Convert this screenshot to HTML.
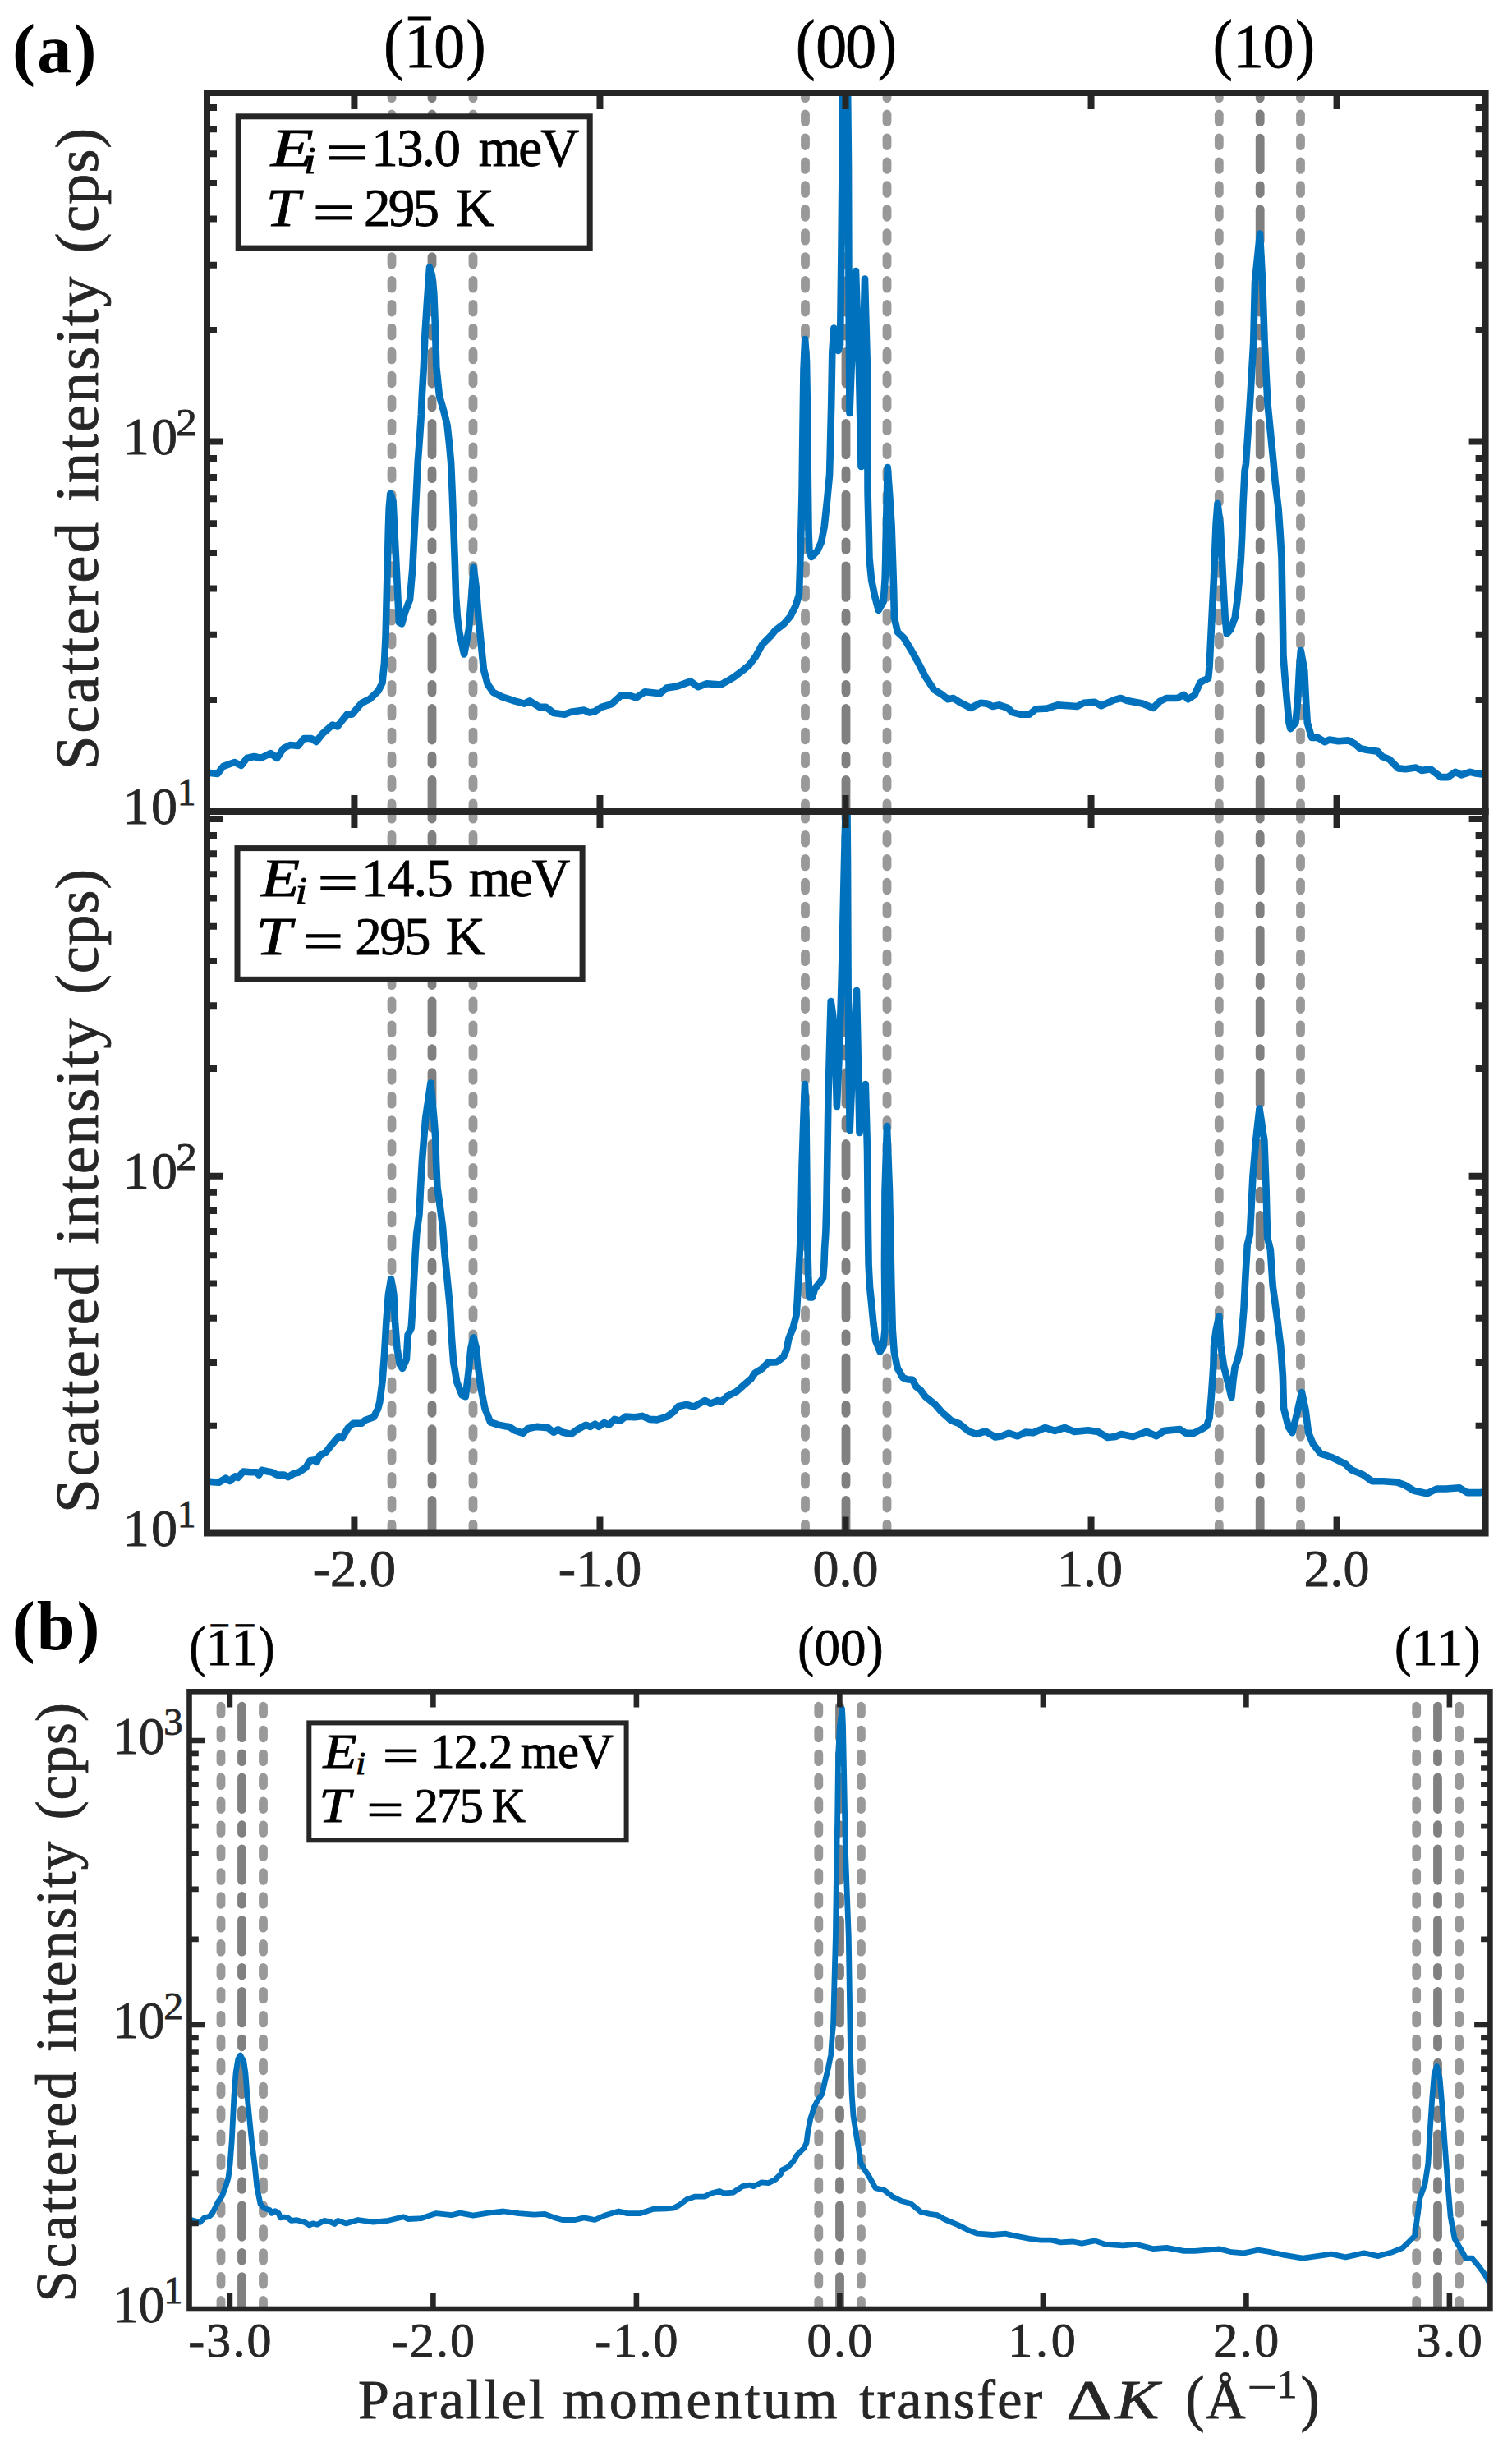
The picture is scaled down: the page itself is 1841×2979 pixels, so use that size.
<!DOCTYPE html>
<html><head><meta charset="utf-8"><title>Figure</title>
<style>html,body{margin:0;padding:0;background:#fff;}body{width:1841px;height:2979px;overflow:hidden;}svg{display:block;}</style>
</head><body>
<svg width="1841" height="2979" viewBox="0 0 1841 2979" font-family="'Liberation Serif', 'DejaVu Serif', serif">
<rect width="1841" height="2979" fill="#fff"/>
<defs>
<clipPath id="ca1"><rect x="252" y="113" width="1556.6" height="875"/></clipPath>
<clipPath id="ca2"><rect x="252" y="988" width="1556.6" height="878.5"/></clipPath>
<clipPath id="cb"><rect x="230.5" y="2059.3" width="1583.9" height="751.7"/></clipPath>
</defs>
<g clip-path="url(#ca1)">
<line x1="477" y1="113" x2="477" y2="1008" stroke="#999999" stroke-width="10.8" stroke-linecap="round" stroke-dasharray="9.6 19.33" stroke-dashoffset="2.96"/>
<line x1="576" y1="113" x2="576" y2="1008" stroke="#999999" stroke-width="10.8" stroke-linecap="round" stroke-dasharray="9.6 19.33" stroke-dashoffset="2.96"/>
<line x1="980.5" y1="113" x2="980.5" y2="1008" stroke="#999999" stroke-width="10.8" stroke-linecap="round" stroke-dasharray="9.6 19.33" stroke-dashoffset="2.96"/>
<line x1="1080" y1="113" x2="1080" y2="1008" stroke="#999999" stroke-width="10.8" stroke-linecap="round" stroke-dasharray="9.6 19.33" stroke-dashoffset="2.96"/>
<line x1="1484.3" y1="113" x2="1484.3" y2="1008" stroke="#999999" stroke-width="10.8" stroke-linecap="round" stroke-dasharray="9.6 19.33" stroke-dashoffset="2.96"/>
<line x1="1583.5" y1="113" x2="1583.5" y2="1008" stroke="#999999" stroke-width="10.8" stroke-linecap="round" stroke-dasharray="9.6 19.33" stroke-dashoffset="2.96"/>
<line x1="526" y1="113" x2="526" y2="1008" stroke="#808080" stroke-width="10.8" stroke-linecap="round" stroke-dasharray="38.5 19.2 9.7 19.4" stroke-dashoffset="31.7"/>
<line x1="1030" y1="113" x2="1030" y2="1008" stroke="#808080" stroke-width="10.8" stroke-linecap="round" stroke-dasharray="38.5 19.2 9.7 19.4" stroke-dashoffset="31.7"/>
<line x1="1534.2" y1="113" x2="1534.2" y2="1008" stroke="#808080" stroke-width="10.8" stroke-linecap="round" stroke-dasharray="38.5 19.2 9.7 19.4" stroke-dashoffset="31.7"/>
<polyline points="252,941 256,941 264.9,942 271.8,933 279.8,930 285.7,928 293.7,932 300.6,923 309.5,921 317.5,923 329.4,917 337.3,923 345.2,911 353.2,907 363.1,908 370,899 379,899 384.9,903 392.9,893 404.8,882.5 410.7,884.5 422.6,869.6 428.6,869.6 440.5,855.8 450.4,850.8 460.6,841.1 465.5,831.3 468,806.8 469.6,774.1 470.4,741.4 471.2,708.8 472.1,676.1 472.9,643.4 473.7,618.9 475.3,601 478.6,610.7 480.2,643.4 481.9,676.1 484.3,725.1 485.9,757.8 489.2,759.4 493.3,744.7 499,730 502.3,692.4 503.9,659.7 505.6,627.1 507.2,594.4 508.8,561.7 511.3,529 512.9,504.5 513.6,485.2 515.9,445.5 517.5,405.8 520.1,366 523,325.5 526,335 528.3,357 530,400 531.3,446.7 535,482 540.2,500 544.6,518 547,540 549.1,563 550.7,600 552.1,637 553.7,680 555.1,726 557,752 559.5,771 565.2,796.5 570.9,766 574.2,725.1 576.6,690.8 579.9,716.9 582.4,749.6 585.6,782.3 588.9,815 593.8,833 600.3,842.7 610.6,848.1 626.5,853.4 638.4,856.6 645,853.4 656.9,860.8 664.8,860.8 674.1,868 687.3,869.8 695.2,866.7 711.1,864.6 717.7,867.5 724.3,866.1 732.3,860.8 744.2,857.4 756.1,846.8 766.7,846.8 774.6,849.5 785.2,842.3 803.7,844.2 811.6,837.6 824.9,835.4 840.7,829.6 850,836.2 860.6,832.3 877.8,833.6 885.7,829.1 893.7,824.3 904.2,816.4 912.2,809.8 920.1,799.2 928,784.7 938.6,774.1 943.9,767.5 954.5,759.5 962.4,750.3 969,737 973,723.8 975.1,659.5 976.5,600 977.5,520 978.5,450 980.2,413 982,440 983,500 984,600 984.6,650 985.5,672 988,678 991,675 995,671 1000,660 1003.7,641 1007,610 1010.1,577.5 1012.2,492.5 1013.3,428.7 1015.4,399.5 1018,404 1020.5,427 1023,420 1024.5,300 1025.5,200 1026.5,100 1029,40 1032,100 1033,200 1033.5,350 1034.5,503 1038.5,400 1042,330 1046,450 1048.5,568 1050.5,450 1053,339.5 1056,450 1056.6,600.6 1057.8,649.6 1058.5,679.4 1061.1,705.8 1065.1,725.7 1069.7,742.9 1075.7,732.3 1077.6,705.8 1078.3,679.4 1079,639.7 1080,600 1080.7,569 1083,600 1085.6,639.7 1086.9,679.4 1088.2,719 1088.9,752.1 1092.9,769.3 1100.4,776.5 1109.5,791.5 1118.5,807.6 1126.5,823.5 1137,839.4 1147.6,846 1154.2,851.3 1160.8,850 1168.8,855.2 1182,861.9 1193.9,855.8 1201.9,856.6 1208.5,860 1216.4,858.4 1227,861.9 1232.3,867.1 1242.9,869.8 1253.4,869.8 1261.4,863.2 1274.6,862.6 1287.8,858.4 1301.1,859.2 1311.6,860 1319.6,855.8 1332.8,854.7 1340.7,859.2 1356.6,852.1 1364.6,850 1372.5,853.1 1391,856.6 1404.2,861.9 1412.2,853.9 1420.1,850 1433.3,850 1441.3,846 1446.6,851.3 1454.5,846 1461.1,831.4 1465.3,828.5 1471.2,825.9 1472.6,811.3 1473.9,784.9 1475.2,758.4 1476.5,732 1477.9,705.5 1479.2,672.4 1480.5,639.4 1482.5,613 1485.8,639.4 1487.8,679 1489.8,718.7 1491.7,751.8 1493.7,771.6 1498.4,766.3 1503.7,751.8 1506.3,732 1508.9,705.5 1510.9,679 1512.2,652.6 1513.6,612.9 1515.6,573.2 1517,564.3 1521.9,490.7 1526.2,417.1 1528,343.6 1534,284.5 1537.2,343.6 1539.7,417.1 1543.4,490.7 1550.7,564.3 1552.6,586.5 1556.6,619.5 1558.5,646 1560.5,679 1561.2,718.7 1561.9,758.4 1562.5,798.1 1564.5,824.6 1566.8,851.4 1569.5,880 1571.3,887.1 1577.5,880 1580.2,851.4 1582,815.7 1583.8,792 1588.2,815.7 1590,851.4 1591.8,880 1597.1,897.9 1604.3,897.9 1613.2,903.2 1618.6,900.5 1629.3,902.3 1641.8,901.4 1648.9,905 1656.1,911.3 1665,913 1677.5,914.8 1682.9,921.1 1691.8,924.6 1702.5,935.4 1711.4,936.3 1723.9,934.5 1731.1,938 1741.8,936.3 1754.3,946.1 1763.2,946.1 1772.1,939.8 1779.3,943.4 1790,939.8 1797.1,941.6 1804.3,942.5 1810,942" fill="none" stroke="#0072BD" stroke-width="8.6" stroke-linejoin="round" stroke-linecap="round"/>
</g>
<g clip-path="url(#ca2)">
<line x1="477" y1="988" x2="477" y2="1886.5" stroke="#999999" stroke-width="10.8" stroke-linecap="round" stroke-dasharray="9.6 19.33" stroke-dashoffset="0.54"/>
<line x1="576" y1="988" x2="576" y2="1886.5" stroke="#999999" stroke-width="10.8" stroke-linecap="round" stroke-dasharray="9.6 19.33" stroke-dashoffset="0.54"/>
<line x1="980.5" y1="988" x2="980.5" y2="1886.5" stroke="#999999" stroke-width="10.8" stroke-linecap="round" stroke-dasharray="9.6 19.33" stroke-dashoffset="0.54"/>
<line x1="1080" y1="988" x2="1080" y2="1886.5" stroke="#999999" stroke-width="10.8" stroke-linecap="round" stroke-dasharray="9.6 19.33" stroke-dashoffset="0.54"/>
<line x1="1484.3" y1="988" x2="1484.3" y2="1886.5" stroke="#999999" stroke-width="10.8" stroke-linecap="round" stroke-dasharray="9.6 19.33" stroke-dashoffset="0.54"/>
<line x1="1583.5" y1="988" x2="1583.5" y2="1886.5" stroke="#999999" stroke-width="10.8" stroke-linecap="round" stroke-dasharray="9.6 19.33" stroke-dashoffset="0.54"/>
<line x1="526" y1="988" x2="526" y2="1886.5" stroke="#808080" stroke-width="10.8" stroke-linecap="round" stroke-dasharray="38.5 19.2 9.7 19.4" stroke-dashoffset="29.5"/>
<line x1="1030" y1="988" x2="1030" y2="1886.5" stroke="#808080" stroke-width="10.8" stroke-linecap="round" stroke-dasharray="38.5 19.2 9.7 19.4" stroke-dashoffset="29.5"/>
<line x1="1534.2" y1="988" x2="1534.2" y2="1886.5" stroke="#808080" stroke-width="10.8" stroke-linecap="round" stroke-dasharray="38.5 19.2 9.7 19.4" stroke-dashoffset="29.5"/>
<polyline points="252,1803.9 255.8,1803.9 266.5,1804.7 274.8,1799.7 279.8,1803 286.4,1797.3 289.7,1798.9 296.3,1791.5 304.6,1792.3 312.8,1792.3 315.3,1795.6 318.6,1789.8 326.1,1791.5 331,1792.3 337.6,1795.6 345.9,1795.6 350.9,1798.1 357.5,1794 364.1,1792.3 372.4,1786.5 377.3,1778.3 382.3,1777.4 385.6,1779.9 388.9,1772.5 397.2,1767.5 402.1,1760.9 412,1749.3 417,1750.1 423.6,1738.6 430.2,1732.8 440.1,1732.8 445.1,1728.7 455,1725.3 460,1715.4 462.3,1706.8 465.5,1682.3 468,1649.6 470.4,1608.8 472.9,1576.1 476.1,1557 479.4,1576.1 481,1608.8 483.5,1641.4 486.8,1661 490,1666 494.9,1654.5 496.6,1625.1 500.7,1616.9 502.3,1592.4 503.9,1559.7 505.6,1527.1 507.2,1502.5 510.5,1478 512.1,1445.4 513.9,1414 516.2,1385 518.1,1361.8 524.4,1318.5 528.4,1361.8 530.2,1385 531.1,1415.7 532.5,1445.4 536.6,1474.8 539.1,1494.4 541.5,1527.1 544.8,1559.7 548,1592.4 549.7,1625.1 552.1,1657.8 556.2,1682.3 562.7,1698.6 566.8,1700.3 570.1,1674.1 573.4,1641.4 576.6,1628.4 579.9,1641.4 582.4,1666 585.6,1690.5 590.5,1715 597.1,1731.3 606.9,1734.6 615,1736.2 620,1736.9 626.7,1741.4 636.9,1744.8 642.5,1739.2 653.7,1736.9 667.2,1738.1 674,1743.7 679.6,1740.3 685.2,1743.7 695.3,1745.9 703.2,1740.3 713.3,1734.7 718.9,1736.9 724.6,1733.6 729.1,1736.9 735.8,1732 741.4,1734.7 748.2,1727.9 754.9,1729.7 761.7,1724.6 772.9,1725.2 781.9,1723.9 790.9,1727.9 799.9,1728.4 811.1,1725.2 820.1,1718.9 825.8,1712.2 835.9,1709.9 844.9,1712.6 858.4,1705 865.1,1708.8 874.1,1705 878.6,1706.6 885.3,1699.8 896.6,1694.2 905.6,1686.3 914.6,1678.5 919.1,1671.7 928.1,1666.1 935.3,1658.7 945.9,1658.1 953.8,1652.1 957.8,1642.9 960.4,1629.6 965.7,1616.4 969.7,1600.5 971,1579.4 972.3,1552.9 973.7,1526.5 975,1500 976.5,1420 978.5,1360 980,1320 981.5,1360 982.3,1430 982.9,1500 983.6,1526.5 984.2,1552.9 985.6,1579.4 988.9,1579.4 992.2,1568.8 997.5,1562.2 1002.1,1555.6 1003.4,1539.7 1004.1,1519.8 1005.4,1500 1006.5,1460 1007.2,1420 1008.4,1339.5 1010.5,1260 1011.7,1219 1014,1235 1016.6,1262 1018.9,1347 1022,1280 1024.6,1196 1026.3,1127 1028,1050 1029.5,990 1030.5,960 1031.5,990 1032,1050 1032.3,1127 1032.6,1196 1033.5,1290 1034.7,1376 1038,1300 1043,1206 1045,1300 1046.5,1379 1050,1350 1053.8,1320 1056,1400 1057,1500 1057.6,1539.7 1059,1566.1 1061,1586 1063.6,1612.4 1066.2,1632.3 1071.5,1645.5 1075.5,1638.9 1077.5,1619 1077.5,1592.6 1077,1540 1077.5,1450 1080,1371 1083,1450 1084.1,1500 1085.4,1566.1 1086.8,1619 1088.7,1645.5 1092.7,1665.3 1099.3,1677.2 1104.6,1679.2 1111.2,1679.9 1115.2,1687.8 1121,1692.5 1127.1,1700.7 1139,1710.2 1146.2,1718.6 1158.1,1729.3 1167.6,1732.9 1179.5,1742.4 1189,1746 1199.8,1742.4 1211.7,1749.5 1220,1748.3 1228.3,1744.8 1239,1748.3 1248.6,1743.6 1258.1,1744.3 1272.4,1738.1 1284.3,1741.9 1296.2,1738.1 1308.1,1742.9 1324.8,1741.2 1336.7,1742.9 1348.6,1750 1358.1,1749 1365.2,1746 1379.5,1749 1396.2,1742.9 1408.1,1748.3 1417.6,1741.9 1436.7,1740 1443.8,1744.8 1453.3,1744.8 1462.9,1740 1469.3,1736.1 1472.7,1725.6 1475,1697.9 1477.4,1663.1 1478,1638.8 1480.5,1620 1484.3,1602.5 1486.5,1638.8 1490.1,1663.1 1497,1690.9 1499.4,1701 1501.5,1680 1503.5,1665 1507,1655 1510.7,1638.8 1514.4,1594.7 1516.6,1550.6 1518.8,1515.3 1521.8,1503.5 1523.2,1477.1 1525.4,1432.9 1529.1,1388.8 1533.5,1349.5 1539.4,1388.8 1541.6,1447.6 1543.1,1506.5 1546.8,1521.2 1549.7,1565.3 1555.6,1609.4 1559.3,1638.8 1561.9,1674.7 1563,1714.1 1568.8,1737.2 1573.4,1744.2 1579.2,1721 1585,1695 1589.6,1716.4 1593.1,1744.2 1598.9,1758.1 1608.1,1769.6 1622,1774.3 1631.3,1778.9 1638.2,1782.4 1645.2,1789.3 1659.1,1795.1 1670.6,1803.2 1684.5,1803.2 1700.7,1804.4 1710,1807.8 1721.6,1814.8 1737.8,1818.2 1749.4,1812.5 1760.9,1812.5 1777.1,1811.3 1786.4,1817.1 1802.6,1817.1 1810,1816" fill="none" stroke="#0072BD" stroke-width="8.6" stroke-linejoin="round" stroke-linecap="round"/>
</g>
<g clip-path="url(#cb)">
<line x1="269" y1="2059.3" x2="269" y2="2831" stroke="#999999" stroke-width="10.8" stroke-linecap="round" stroke-dasharray="9.6 19.33" stroke-dashoffset="11.03"/>
<line x1="320.5" y1="2059.3" x2="320.5" y2="2831" stroke="#999999" stroke-width="10.8" stroke-linecap="round" stroke-dasharray="9.6 19.33" stroke-dashoffset="11.03"/>
<line x1="996.8" y1="2059.3" x2="996.8" y2="2831" stroke="#999999" stroke-width="10.8" stroke-linecap="round" stroke-dasharray="9.6 19.33" stroke-dashoffset="11.03"/>
<line x1="1048.4" y1="2059.3" x2="1048.4" y2="2831" stroke="#999999" stroke-width="10.8" stroke-linecap="round" stroke-dasharray="9.6 19.33" stroke-dashoffset="11.03"/>
<line x1="1724.7" y1="2059.3" x2="1724.7" y2="2831" stroke="#999999" stroke-width="10.8" stroke-linecap="round" stroke-dasharray="9.6 19.33" stroke-dashoffset="11.03"/>
<line x1="1776.6" y1="2059.3" x2="1776.6" y2="2831" stroke="#999999" stroke-width="10.8" stroke-linecap="round" stroke-dasharray="9.6 19.33" stroke-dashoffset="11.03"/>
<line x1="294.5" y1="2059.3" x2="294.5" y2="2831" stroke="#808080" stroke-width="10.8" stroke-linecap="round" stroke-dasharray="38.5 19.2 9.7 19.4" stroke-dashoffset="68.9"/>
<line x1="1022.5" y1="2059.3" x2="1022.5" y2="2831" stroke="#808080" stroke-width="10.8" stroke-linecap="round" stroke-dasharray="38.5 19.2 9.7 19.4" stroke-dashoffset="68.9"/>
<line x1="1750.5" y1="2059.3" x2="1750.5" y2="2831" stroke="#808080" stroke-width="10.8" stroke-linecap="round" stroke-dasharray="38.5 19.2 9.7 19.4" stroke-dashoffset="68.9"/>
<polyline points="230,2702.7 233.6,2702.7 243.3,2705.5 248.8,2699.9 254.4,2698.5 257.9,2695.7 261.4,2688.8 265.5,2680.4 270.4,2673.5 274.6,2662.4 278,2651.3 280.1,2634.6 282.2,2606.8 283.6,2579 285,2551.2 287.1,2523.4 289.8,2506.7 292.6,2502 296.8,2509.5 298.9,2523.4 301,2551.2 303.7,2579 306.5,2606.8 310,2634.6 312.8,2662.4 317,2683.2 322.5,2688.8 328.1,2690.2 330.8,2694.3 335,2691.6 339.2,2694.3 341.3,2699.9 346.1,2699.2 350.3,2699.9 354.5,2703.4 361.4,2702.7 371.2,2705.5 376.7,2708.9 380.9,2706.9 386.4,2708.2 394.8,2703.4 401.7,2704.8 407.3,2707.5 411.5,2703.4 421.2,2706.9 435.9,2702.5 454.4,2705.2 472.9,2703.3 491.4,2698.8 496.7,2701.5 512.6,2700.7 531.1,2694.6 549.6,2696.7 560.2,2694.1 576.1,2697.2 594.6,2694.1 613.1,2692 631.6,2694.6 650.2,2696.2 663.4,2695.4 674,2699.4 684.6,2702.5 700.4,2702.5 711,2699.9 724.2,2702.5 737.5,2696.7 753.3,2692 763.9,2694.6 779.8,2694.6 795.7,2689.3 811.5,2688.8 819.9,2688.2 826.5,2684.9 836.5,2677.4 846.4,2674.1 858,2674.1 866.2,2670 876.1,2667.5 881.1,2670 892.7,2669.2 904.2,2661.7 912.5,2660.1 917.5,2661.7 927.4,2656.8 935.7,2657.6 943.9,2653.5 950.5,2646.8 952.2,2641.9 958.8,2638.6 965.4,2632 970.4,2623.7 978.7,2615.4 982,2608.8 983.6,2595.6 986.9,2579 991.1,2565.8 995.2,2557.6 1001,2549.3 1004.3,2534.4 1008.4,2517.9 1011.7,2501.3 1013.4,2476.5 1014.6,2465 1017.4,2357.8 1018.9,2250 1019.6,2218.5 1020.6,2136.7 1022.5,2100 1025.5,2080 1026.5,2100 1027.2,2136.7 1028.8,2218.5 1029.3,2250 1033.3,2357.8 1034.9,2460 1035.7,2509.6 1037.3,2550.9 1039,2575.7 1041.5,2592.3 1044.8,2612.1 1048.1,2633.6 1053.1,2641.9 1057.9,2649.1 1065.9,2663.7 1076.5,2666.3 1087,2674.2 1097.6,2679.5 1108.2,2682.2 1121.4,2692.8 1132,2695.4 1141.3,2696.7 1150.5,2702 1166.4,2708.6 1179.6,2715.2 1190.2,2719.2 1208.7,2720.5 1224.6,2719.2 1235.2,2721.9 1253.7,2725.3 1266.9,2727.1 1280.2,2727.1 1290.7,2729.8 1306.6,2729 1317.2,2731.1 1333.1,2727.9 1346.3,2732.4 1367.5,2733.8 1383.3,2732.4 1404.5,2737.7 1420.4,2736.4 1441.5,2740.4 1454.9,2740.4 1469.8,2739.2 1484.6,2737.9 1499.5,2741.7 1514.4,2742.9 1531.8,2739.2 1546.6,2741.7 1564,2745.4 1586.3,2749.1 1603.7,2746.6 1621,2744.1 1638.4,2747.9 1660.7,2742.9 1678.1,2746.6 1695.5,2741.7 1707.8,2736.7 1715.3,2729.3 1722.7,2721.8 1725.2,2703.2 1728.9,2675.9 1735.1,2658.6 1738.9,2633.8 1741.3,2591.6 1743.8,2554.4 1746.3,2524.6 1749.5,2515.5 1753,2529.6 1756.2,2566.8 1758.7,2604 1762.4,2653.6 1766.1,2698.3 1771.1,2725.5 1778.5,2737.9 1784.7,2749.1 1792.2,2749.1 1799.6,2757.8 1807.1,2767.7 1812,2776.4 1816,2783" fill="none" stroke="#0072BD" stroke-width="6.8" stroke-linejoin="round" stroke-linecap="round"/>
</g>
<rect x="290.2" y="141.8" width="428" height="160.3" fill="#fff" stroke="#262626" stroke-width="7"/>
<rect x="289" y="1032.6" width="420.1" height="159.7" fill="#fff" stroke="#262626" stroke-width="7"/>
<rect x="376.3" y="2097.4" width="386.3" height="142.9" fill="#fff" stroke="#262626" stroke-width="6"/>
<path d="M431.42 113L431.42 133 M431.42 988L431.42 968 M730.46 113L730.46 133 M730.46 988L730.46 968 M1029.5 113L1029.5 133 M1029.5 988L1029.5 968 M1328.54 113L1328.54 133 M1328.54 988L1328.54 968 M1627.58 113L1627.58 133 M1627.58 988L1627.58 968 M252 852.04L264 852.04 M1808.6 852.04L1796.6 852.04 M252 772.8L264 772.8 M1808.6 772.8L1796.6 772.8 M252 716.57L264 716.57 M1808.6 716.57L1796.6 716.57 M252 672.96L264 672.96 M1808.6 672.96L1796.6 672.96 M252 637.33L264 637.33 M1808.6 637.33L1796.6 637.33 M252 607.21L264 607.21 M1808.6 607.21L1796.6 607.21 M252 581.11L264 581.11 M1808.6 581.11L1796.6 581.11 M252 558.09L264 558.09 M1808.6 558.09L1796.6 558.09 M252 537.5L272 537.5 M1808.6 537.5L1788.6 537.5 M252 402.04L264 402.04 M1808.6 402.04L1796.6 402.04 M252 322.8L264 322.8 M1808.6 322.8L1796.6 322.8 M252 266.57L264 266.57 M1808.6 266.57L1796.6 266.57 M252 222.96L264 222.96 M1808.6 222.96L1796.6 222.96 M252 187.33L264 187.33 M1808.6 187.33L1796.6 187.33 M252 157.21L264 157.21 M1808.6 157.21L1796.6 157.21 M252 131.11L264 131.11 M1808.6 131.11L1796.6 131.11" stroke="#262626" stroke-width="8" fill="none"/>
<rect x="252" y="113" width="1556.6" height="875" fill="none" stroke="#262626" stroke-width="8"/>
<path d="M431.42 988L431.42 1008 M431.42 1866.5L431.42 1846.5 M730.46 988L730.46 1008 M730.46 1866.5L730.46 1846.5 M1029.5 988L1029.5 1008 M1029.5 1866.5L1029.5 1846.5 M1328.54 988L1328.54 1008 M1328.54 1866.5L1328.54 1846.5 M1627.58 988L1627.58 1008 M1627.58 1866.5L1627.58 1846.5 M252 1735.63L264 1735.63 M1808.6 1735.63L1796.6 1735.63 M252 1659.07L264 1659.07 M1808.6 1659.07L1796.6 1659.07 M252 1604.75L264 1604.75 M1808.6 1604.75L1796.6 1604.75 M252 1562.62L264 1562.62 M1808.6 1562.62L1796.6 1562.62 M252 1528.2L264 1528.2 M1808.6 1528.2L1796.6 1528.2 M252 1499.09L264 1499.09 M1808.6 1499.09L1796.6 1499.09 M252 1473.88L264 1473.88 M1808.6 1473.88L1796.6 1473.88 M252 1451.64L264 1451.64 M1808.6 1451.64L1796.6 1451.64 M252 1431.75L272 1431.75 M1808.6 1431.75L1788.6 1431.75 M252 1300.88L264 1300.88 M1808.6 1300.88L1796.6 1300.88 M252 1224.32L264 1224.32 M1808.6 1224.32L1796.6 1224.32 M252 1170L264 1170 M1808.6 1170L1796.6 1170 M252 1127.87L264 1127.87 M1808.6 1127.87L1796.6 1127.87 M252 1093.45L264 1093.45 M1808.6 1093.45L1796.6 1093.45 M252 1064.34L264 1064.34 M1808.6 1064.34L1796.6 1064.34 M252 1039.13L264 1039.13 M1808.6 1039.13L1796.6 1039.13 M252 1016.89L264 1016.89 M1808.6 1016.89L1796.6 1016.89 M252 997L272 997 M1808.6 997L1788.6 997" stroke="#262626" stroke-width="8" fill="none"/>
<rect x="252" y="988" width="1556.6" height="878.5" fill="none" stroke="#262626" stroke-width="8"/>
<path d="M279.9 2059.3L279.9 2078.6 M279.9 2811L279.9 2791.7 M527.4 2059.3L527.4 2078.6 M527.4 2811L527.4 2791.7 M774.9 2059.3L774.9 2078.6 M774.9 2811L774.9 2791.7 M1022.4 2059.3L1022.4 2078.6 M1022.4 2811L1022.4 2791.7 M1269.9 2059.3L1269.9 2078.6 M1269.9 2811L1269.9 2791.7 M1517.4 2059.3L1517.4 2078.6 M1517.4 2811L1517.4 2791.7 M1764.9 2059.3L1764.9 2078.6 M1764.9 2811L1764.9 2791.7 M230.5 2706.84L241.8 2706.84 M1814.4 2706.84L1803.1 2706.84 M230.5 2645.92L241.8 2645.92 M1814.4 2645.92L1803.1 2645.92 M230.5 2602.69L241.8 2602.69 M1814.4 2602.69L1803.1 2602.69 M230.5 2569.16L241.8 2569.16 M1814.4 2569.16L1803.1 2569.16 M230.5 2541.76L241.8 2541.76 M1814.4 2541.76L1803.1 2541.76 M230.5 2518.6L241.8 2518.6 M1814.4 2518.6L1803.1 2518.6 M230.5 2498.53L241.8 2498.53 M1814.4 2498.53L1803.1 2498.53 M230.5 2480.83L241.8 2480.83 M1814.4 2480.83L1803.1 2480.83 M230.5 2465L249.8 2465 M1814.4 2465L1795.1 2465 M230.5 2360.84L241.8 2360.84 M1814.4 2360.84L1803.1 2360.84 M230.5 2299.92L241.8 2299.92 M1814.4 2299.92L1803.1 2299.92 M230.5 2256.69L241.8 2256.69 M1814.4 2256.69L1803.1 2256.69 M230.5 2223.16L241.8 2223.16 M1814.4 2223.16L1803.1 2223.16 M230.5 2195.76L241.8 2195.76 M1814.4 2195.76L1803.1 2195.76 M230.5 2172.6L241.8 2172.6 M1814.4 2172.6L1803.1 2172.6 M230.5 2152.53L241.8 2152.53 M1814.4 2152.53L1803.1 2152.53 M230.5 2134.83L241.8 2134.83 M1814.4 2134.83L1803.1 2134.83 M230.5 2119L249.8 2119 M1814.4 2119L1795.1 2119" stroke="#262626" stroke-width="6.6" fill="none"/>
<rect x="230.5" y="2059.3" width="1583.9" height="751.7" fill="none" stroke="#262626" stroke-width="6.6"/>
<text x="15.11" y="87.5" font-size="84" textLength="102.28" lengthAdjust="spacing" font-weight="bold">(a)</text>
<text x="14.81" y="2008" font-size="84" textLength="106.58" lengthAdjust="spacing" font-weight="bold">(b)</text>
<text x="467.33" y="81.4" font-size="81.7" textLength="23.99" lengthAdjust="spacingAndGlyphs" stroke="#000" stroke-width="0.8">(</text>
<text x="492.25" y="81.5" font-size="75.7" textLength="73.74" lengthAdjust="spacing" stroke="#000" stroke-width="0.8">10</text>
<text x="567.38" y="81.4" font-size="81.7" textLength="23.99" lengthAdjust="spacingAndGlyphs" stroke="#000" stroke-width="0.8">)</text>
<text x="497.44" y="72.38" font-size="67.54" textLength="26.78" lengthAdjust="spacingAndGlyphs" stroke="#000" stroke-width="0.8">¯</text>
<text x="968.9" y="81.4" font-size="81.7" textLength="23.47" lengthAdjust="spacingAndGlyphs" stroke="#000" stroke-width="0.8">(</text>
<text x="993.22" y="81.5" font-size="75.7" textLength="73.87" lengthAdjust="spacing" stroke="#000" stroke-width="0.8">00</text>
<text x="1068.89" y="81.4" font-size="81.7" textLength="22.82" lengthAdjust="spacingAndGlyphs" stroke="#000" stroke-width="0.8">)</text>
<text x="1476.63" y="81.4" font-size="81.7" textLength="23.99" lengthAdjust="spacingAndGlyphs" stroke="#000" stroke-width="0.8">(</text>
<text x="1500.95" y="81.5" font-size="75.7" textLength="74.54" lengthAdjust="spacing" stroke="#000" stroke-width="0.8">10</text>
<text x="1576.98" y="81.4" font-size="81.7" textLength="23.99" lengthAdjust="spacingAndGlyphs" stroke="#000" stroke-width="0.8">)</text>
<text x="230.15" y="2027.2" font-size="68.1" textLength="20.1" lengthAdjust="spacingAndGlyphs" stroke="#000" stroke-width="0.8">(</text>
<text x="251.06" y="2026.8" font-size="63" textLength="62.22" lengthAdjust="spacing" stroke="#000" stroke-width="0.8">11</text>
<text x="314.56" y="2027.2" font-size="68.1" textLength="20.1" lengthAdjust="spacingAndGlyphs" stroke="#000" stroke-width="0.8">)</text>
<text x="256.94" y="2014.98" font-size="47.93" textLength="20.5" lengthAdjust="spacingAndGlyphs" stroke="#000" stroke-width="0.8">¯</text>
<text x="287.36" y="2014.98" font-size="47.93" textLength="21.76" lengthAdjust="spacingAndGlyphs" stroke="#000" stroke-width="0.8">¯</text>
<text x="971.28" y="2027.2" font-size="68.1" textLength="19.84" lengthAdjust="spacingAndGlyphs" stroke="#000" stroke-width="0.8">(</text>
<text x="991.6" y="2026.8" font-size="63" textLength="63" lengthAdjust="spacing" stroke="#000" stroke-width="0.8">00</text>
<text x="1054.9" y="2027.2" font-size="68.1" textLength="20.62" lengthAdjust="spacingAndGlyphs" stroke="#000" stroke-width="0.8">)</text>
<text x="1698" y="2027.2" font-size="68.1" textLength="20.49" lengthAdjust="spacingAndGlyphs" stroke="#000" stroke-width="0.8">(</text>
<text x="1719.06" y="2026.8" font-size="63" textLength="62.02" lengthAdjust="spacing" stroke="#000" stroke-width="0.8">11</text>
<text x="1783.12" y="2027.2" font-size="68.1" textLength="19.45" lengthAdjust="spacingAndGlyphs" stroke="#000" stroke-width="0.8">)</text>
<text x="329.7" y="202.1" font-size="65" textLength="52.07" lengthAdjust="spacingAndGlyphs" font-style="italic" stroke="#000" stroke-width="0.8">E</text>
<text x="369.98" y="211.2" font-size="46" textLength="14.7" lengthAdjust="spacingAndGlyphs" font-style="italic" stroke="#000" stroke-width="0.8">i</text>
<text x="397.14" y="208.1" font-size="65" textLength="51.63" lengthAdjust="spacingAndGlyphs" stroke="#000" stroke-width="0.8">=</text>
<text x="452.29" y="202.1" font-size="65" textLength="108.59" lengthAdjust="spacing" stroke="#000" stroke-width="0.8">13.0</text>
<text x="582.84" y="202.1" font-size="65" textLength="122.29" lengthAdjust="spacing" stroke="#000" stroke-width="0.8">meV</text>
<text x="323.82" y="275.2" font-size="65" textLength="41.47" lengthAdjust="spacingAndGlyphs" font-style="italic" stroke="#000" stroke-width="0.8">T</text>
<text x="380.44" y="281.2" font-size="65" textLength="51.63" lengthAdjust="spacingAndGlyphs" stroke="#000" stroke-width="0.8">=</text>
<text x="442.94" y="275.2" font-size="65" textLength="92.1" lengthAdjust="spacing" stroke="#000" stroke-width="0.8">295</text>
<text x="554.94" y="275.2" font-size="65" textLength="46.73" lengthAdjust="spacingAndGlyphs" stroke="#000" stroke-width="0.8">K</text>
<text x="317.41" y="1090.6" font-size="65" textLength="47.54" lengthAdjust="spacingAndGlyphs" font-style="italic" stroke="#000" stroke-width="0.8">E</text>
<text x="359.43" y="1099.7" font-size="46" textLength="14.7" lengthAdjust="spacingAndGlyphs" font-style="italic" stroke="#000" stroke-width="0.8">i</text>
<text x="386.6" y="1096.6" font-size="65" textLength="49.81" lengthAdjust="spacingAndGlyphs" stroke="#000" stroke-width="0.8">=</text>
<text x="440.09" y="1090.6" font-size="65" textLength="111.65" lengthAdjust="spacing" stroke="#000" stroke-width="0.8">14.5</text>
<text x="570.64" y="1090.6" font-size="65" textLength="123.79" lengthAdjust="spacing" stroke="#000" stroke-width="0.8">meV</text>
<text x="311.36" y="1162.4" font-size="65" textLength="43.7" lengthAdjust="spacingAndGlyphs" font-style="italic" stroke="#000" stroke-width="0.8">T</text>
<text x="368.4" y="1168.4" font-size="65" textLength="49.81" lengthAdjust="spacingAndGlyphs" stroke="#000" stroke-width="0.8">=</text>
<text x="432.34" y="1162.4" font-size="65" textLength="92.1" lengthAdjust="spacing" stroke="#000" stroke-width="0.8">295</text>
<text x="542.78" y="1162.4" font-size="65" textLength="48.21" lengthAdjust="spacingAndGlyphs" stroke="#000" stroke-width="0.8">K</text>
<text x="393.59" y="2151.7" font-size="58.6" textLength="41.1" lengthAdjust="spacingAndGlyphs" font-style="italic" stroke="#000" stroke-width="0.8">E</text>
<text x="432.83" y="2159.9" font-size="40" textLength="12.78" lengthAdjust="spacingAndGlyphs" font-style="italic" stroke="#000" stroke-width="0.8">i</text>
<text x="465.74" y="2156.7" font-size="58.6" textLength="44.84" lengthAdjust="spacingAndGlyphs" stroke="#000" stroke-width="0.8">=</text>
<text x="524.25" y="2151.7" font-size="58.6" textLength="100.08" lengthAdjust="spacing" stroke="#000" stroke-width="0.8">12.2</text>
<text x="633.77" y="2151.7" font-size="58.6" textLength="112.99" lengthAdjust="spacing" stroke="#000" stroke-width="0.8">meV</text>
<text x="388.28" y="2217.5" font-size="58.6" textLength="38.44" lengthAdjust="spacingAndGlyphs" font-style="italic" stroke="#000" stroke-width="0.8">T</text>
<text x="446.29" y="2222.5" font-size="58.6" textLength="45.45" lengthAdjust="spacingAndGlyphs" stroke="#000" stroke-width="0.8">=</text>
<text x="504.62" y="2217.5" font-size="58.6" textLength="84.06" lengthAdjust="spacing" stroke="#000" stroke-width="0.8">275</text>
<text x="598.66" y="2217.5" font-size="58.6" textLength="41.12" lengthAdjust="spacingAndGlyphs" stroke="#000" stroke-width="0.8">K</text>
<text x="149.68" y="553.1" font-size="64" textLength="66.36" lengthAdjust="spacing" fill="#262626" stroke="#262626" stroke-width="0.8">10</text>
<text x="214.35" y="530" font-size="46" textLength="25.57" lengthAdjust="spacingAndGlyphs" fill="#262626" stroke="#262626" stroke-width="0.8">2</text>
<text x="149.68" y="1003.1" font-size="64" textLength="66.36" lengthAdjust="spacing" fill="#262626" stroke="#262626" stroke-width="0.8">10</text>
<text x="216.06" y="980" font-size="46" textLength="22.44" lengthAdjust="spacingAndGlyphs" fill="#262626" stroke="#262626" stroke-width="0.8">1</text>
<text x="149.68" y="1447.35" font-size="64" textLength="66.36" lengthAdjust="spacing" fill="#262626" stroke="#262626" stroke-width="0.8">10</text>
<text x="214.35" y="1424.25" font-size="46" textLength="25.57" lengthAdjust="spacingAndGlyphs" fill="#262626" stroke="#262626" stroke-width="0.8">2</text>
<text x="149.68" y="1882.1" font-size="64" textLength="66.36" lengthAdjust="spacing" fill="#262626" stroke="#262626" stroke-width="0.8">10</text>
<text x="216.06" y="1859" font-size="46" textLength="22.44" lengthAdjust="spacingAndGlyphs" fill="#262626" stroke="#262626" stroke-width="0.8">1</text>
<text x="136.97" y="2134.6" font-size="64" textLength="63.56" lengthAdjust="spacing" fill="#262626" stroke="#262626" stroke-width="0.8">10</text>
<text x="199.18" y="2111.5" font-size="46" textLength="23.24" lengthAdjust="spacingAndGlyphs" fill="#262626" stroke="#262626" stroke-width="0.8">3</text>
<text x="136.97" y="2480.6" font-size="64" textLength="63.56" lengthAdjust="spacing" fill="#262626" stroke="#262626" stroke-width="0.8">10</text>
<text x="199.3" y="2457.5" font-size="46" textLength="23.95" lengthAdjust="spacingAndGlyphs" fill="#262626" stroke="#262626" stroke-width="0.8">2</text>
<text x="136.97" y="2826.6" font-size="64" textLength="63.56" lengthAdjust="spacing" fill="#262626" stroke="#262626" stroke-width="0.8">10</text>
<text x="199.51" y="2803.5" font-size="46" textLength="22.72" lengthAdjust="spacingAndGlyphs" fill="#262626" stroke="#262626" stroke-width="0.8">1</text>
<text x="380.79" y="1931.3" font-size="64" textLength="101.31" lengthAdjust="spacing" fill="#262626" stroke="#262626" stroke-width="0.8">-2.0</text>
<text x="679.84" y="1931.3" font-size="64" textLength="101.31" lengthAdjust="spacing" fill="#262626" stroke="#262626" stroke-width="0.8">-1.0</text>
<text x="989.5" y="1931.3" font-size="64" textLength="80" lengthAdjust="spacing" fill="#262626" stroke="#262626" stroke-width="0.8">0.0</text>
<text x="1286.95" y="1931.3" font-size="64" textLength="80" lengthAdjust="spacing" fill="#262626" stroke="#262626" stroke-width="0.8">1.0</text>
<text x="1587.39" y="1931.3" font-size="64" textLength="80" lengthAdjust="spacing" fill="#262626" stroke="#262626" stroke-width="0.8">2.0</text>
<text x="229.27" y="2869" font-size="60" textLength="101.31" lengthAdjust="spacing" fill="#262626" stroke="#262626" stroke-width="0.8">-3.0</text>
<text x="476.77" y="2869" font-size="60" textLength="101.31" lengthAdjust="spacing" fill="#262626" stroke="#262626" stroke-width="0.8">-2.0</text>
<text x="724.27" y="2869" font-size="60" textLength="101.31" lengthAdjust="spacing" fill="#262626" stroke="#262626" stroke-width="0.8">-1.0</text>
<text x="982.61" y="2869" font-size="60" textLength="79.57" lengthAdjust="spacing" fill="#262626" stroke="#262626" stroke-width="0.8">0.0</text>
<text x="1227.13" y="2869" font-size="60" textLength="82.56" lengthAdjust="spacing" fill="#262626" stroke="#262626" stroke-width="0.8">1.0</text>
<text x="1477.26" y="2869" font-size="60" textLength="79.92" lengthAdjust="spacing" fill="#262626" stroke="#262626" stroke-width="0.8">2.0</text>
<text x="1724.53" y="2869" font-size="60" textLength="80.16" lengthAdjust="spacing" fill="#262626" stroke="#262626" stroke-width="0.8">3.0</text>
<text x="-5.02" y="0" font-size="75" textLength="301.13" lengthAdjust="spacing" fill="#262626" stroke="#262626" stroke-width="0.8" transform="translate(119 932.2) rotate(-90)">Scattered</text>
<text x="321.03" y="0" font-size="75" textLength="274.57" lengthAdjust="spacing" fill="#262626" stroke="#262626" stroke-width="0.8" transform="translate(119 932.2) rotate(-90)">intensity</text>
<text x="623.6" y="0" font-size="75" textLength="152.79" lengthAdjust="spacing" fill="#262626" stroke="#262626" stroke-width="0.8" transform="translate(119 932.2) rotate(-90)">(cps)</text>
<text x="-5.02" y="0" font-size="75" textLength="302.24" lengthAdjust="spacing" fill="#262626" stroke="#262626" stroke-width="0.8" transform="translate(119 1837) rotate(-90)">Scattered</text>
<text x="322.24" y="0" font-size="75" textLength="275.59" lengthAdjust="spacing" fill="#262626" stroke="#262626" stroke-width="0.8" transform="translate(119 1837) rotate(-90)">intensity</text>
<text x="625.96" y="0" font-size="75" textLength="153.34" lengthAdjust="spacing" fill="#262626" stroke="#262626" stroke-width="0.8" transform="translate(119 1837) rotate(-90)">(cps)</text>
<text x="-4.62" y="0" font-size="69" textLength="281.15" lengthAdjust="spacing" fill="#262626" stroke="#262626" stroke-width="0.8" transform="translate(92.2 2798) rotate(-90)">Scattered</text>
<text x="299.83" y="0" font-size="69" textLength="256.39" lengthAdjust="spacing" fill="#262626" stroke="#262626" stroke-width="0.8" transform="translate(92.2 2798) rotate(-90)">intensity</text>
<text x="582.43" y="0" font-size="69" textLength="142.6" lengthAdjust="spacing" fill="#262626" stroke="#262626" stroke-width="0.8" transform="translate(92.2 2798) rotate(-90)">(cps)</text>
<text x="435.94" y="2944" font-size="68" textLength="226.72" lengthAdjust="spacing" fill="#262626" stroke="#262626" stroke-width="0.8">Parallel</text>
<text x="685.27" y="2944" font-size="68" textLength="334.19" lengthAdjust="spacing" fill="#262626" stroke="#262626" stroke-width="0.8">momentum</text>
<text x="1046.34" y="2944" font-size="68" textLength="222.86" lengthAdjust="spacing" fill="#262626" stroke="#262626" stroke-width="0.8">transfer</text>
<text x="1298.08" y="2944" font-size="68" textLength="55.99" lengthAdjust="spacingAndGlyphs" fill="#262626" stroke="#262626" stroke-width="0.8">Δ</text>
<text x="1358.53" y="2944" font-size="68" textLength="52.96" lengthAdjust="spacingAndGlyphs" font-style="italic" fill="#262626" stroke="#262626" stroke-width="0.8">K</text>
<text x="1443.32" y="2944.5" font-size="75.5" textLength="23.34" lengthAdjust="spacingAndGlyphs" fill="#262626" stroke="#262626" stroke-width="0.8">(</text>
<text x="1468.25" y="2944" font-size="68" textLength="48.34" lengthAdjust="spacingAndGlyphs" fill="#262626" stroke="#262626" stroke-width="0.8">Å</text>
<text x="1518.45" y="2923.15" font-size="50" textLength="36.84" lengthAdjust="spacingAndGlyphs" fill="#262626" stroke="#262626" stroke-width="0.8">−</text>
<text x="1554.41" y="2919" font-size="48" textLength="25" lengthAdjust="spacingAndGlyphs" fill="#262626" stroke="#262626" stroke-width="0.8">1</text>
<text x="1583.54" y="2944.5" font-size="75.5" textLength="23.34" lengthAdjust="spacingAndGlyphs" fill="#262626" stroke="#262626" stroke-width="0.8">)</text>
</svg>
</body></html>
